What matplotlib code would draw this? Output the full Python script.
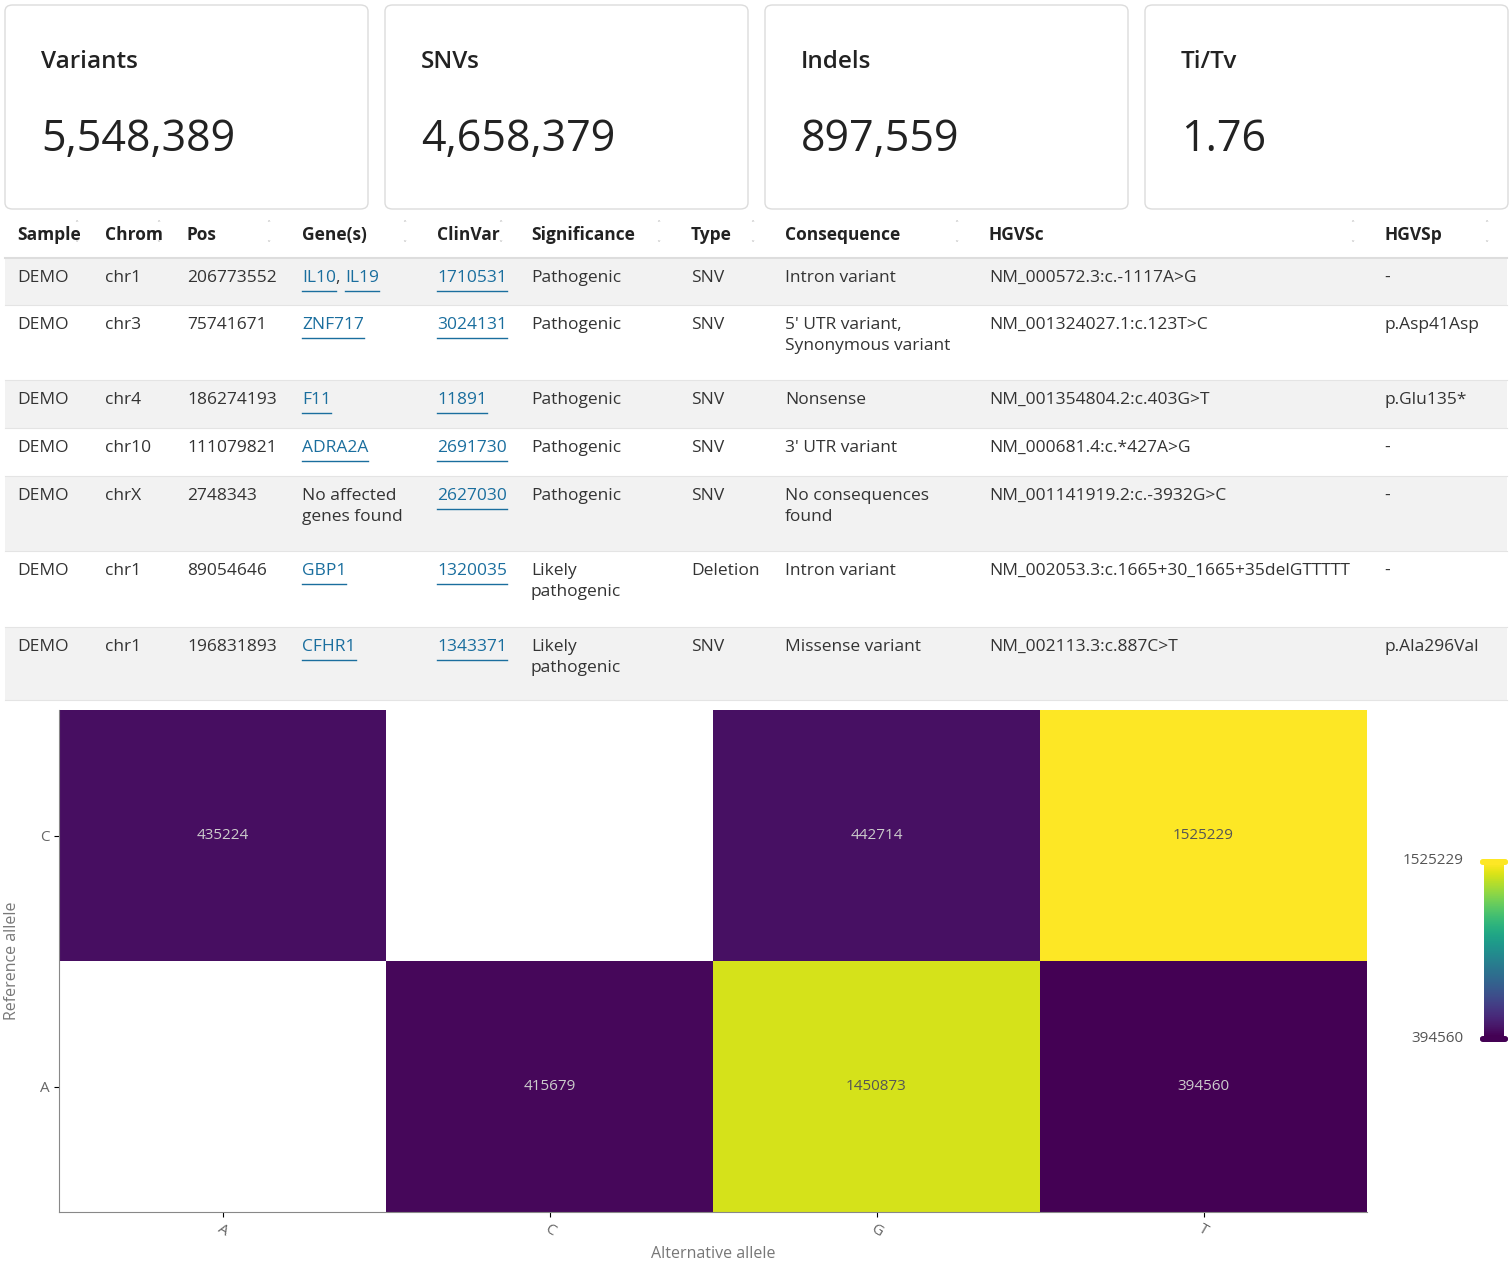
import numpy as np
import matplotlib.pyplot as plt
from matplotlib.patches import FancyBboxPatch, Rectangle

W, H = 1512, 1267
plt.rcParams['font.family'] = ['Open Sans', 'DejaVu Sans']

card_titles = ['Variants', 'SNVs', 'Indels', 'Ti/Tv']
card_values = ['5,548,389', '4,658,379', '897,559', '1.76']

columns = ['Sample', 'Chrom', 'Pos', 'Gene(s)', 'ClinVar', 'Significance', 'Type',
           'Consequence', 'HGVSc', 'HGVSp']
rows = [
    ['DEMO', 'chr1', '206773552', 'IL10, IL19', '1710531', 'Pathogenic', 'SNV', 'Intron variant', 'NM_000572.3:c.-1117A>G', '-'],
    ['DEMO', 'chr3', '75741671', 'ZNF717', '3024131', 'Pathogenic', 'SNV', "5' UTR variant,\nSynonymous variant", 'NM_001324027.1:c.123T>C', 'p.Asp41Asp'],
    ['DEMO', 'chr4', '186274193', 'F11', '11891', 'Pathogenic', 'SNV', 'Nonsense', 'NM_001354804.2:c.403G>T', 'p.Glu135*'],
    ['DEMO', 'chr10', '111079821', 'ADRA2A', '2691730', 'Pathogenic', 'SNV', "3' UTR variant", 'NM_000681.4:c.*427A>G', '-'],
    ['DEMO', 'chrX', '2748343', 'No affected\ngenes found', '2627030', 'Pathogenic', 'SNV', 'No consequences\nfound', 'NM_001141919.2:c.-3932G>C', '-'],
    ['DEMO', 'chr1', '89054646', 'GBP1', '1320035', 'Likely\npathogenic', 'Deletion', 'Intron variant', 'NM_002053.3:c.1665+30_1665+35delGTTTTT', '-'],
    ['DEMO', 'chr1', '196831893', 'CFHR1', '1343371', 'Likely\npathogenic', 'SNV', 'Missense variant', 'NM_002113.3:c.887C>T', 'p.Ala296Val'],
]
linked = [False, False, False, True, True, False, False, False, False, False]

ref_alleles = ['A', 'C']
alt_alleles = ['A', 'C', 'G', 'T']
counts = np.array([[np.nan, 415679, 1450873, 394560],
                   [435224, np.nan, 442714, 1525229]])

fig = plt.figure(figsize=(W / 100, H / 100), dpi=100)
renderer = fig.canvas.get_renderer()
LINK = '#1a6e9e'

def fx(x):
    return x / W

def fy(y):
    return 1 - y / H

def txt(x, y, s, **kw):
    return fig.text(fx(x), fy(y), s, va='center', **kw)

# stat cards
for i, (t, v) in enumerate(zip(card_titles, card_values)):
    x0 = 5 + i * 380
    fig.patches.append(FancyBboxPatch((fx(x0), fy(209)), fx(363), 204 / H,
                                      boxstyle='round,pad=0,rounding_size=0.005',
                                      transform=fig.transFigure, fc='white', ec='#dcdcdc', lw=1))
    txt(x0 + 36, 62, t, fontsize=17.5, color='#222222', weight='semibold')
    txt(x0 + 36, 140, v, fontsize=31, color='#222222')

# table
col_x = [17, 105, 187, 302, 437, 531, 691, 785, 989, 1384]
sort_x = [76, 158, 268, 404, 500, 658, 752, 956, 1352, 1486]
for c, x, sx in zip(columns, col_x, sort_x):
    txt(x, 235, c, fontsize=12.5, weight='bold', color='#222222')
    txt(sx, 226, '\u02c4', fontsize=6, color='#bbbbbb', ha='center')
    txt(sx, 245, '\u02c5', fontsize=6, color='#bbbbbb', ha='center')
fig.add_artist(plt.Line2D([fx(5), fx(1507)], [fy(258), fy(258)], color='#dddddd', lw=1.5))

bounds = [258, 305, 380, 428, 476, 551, 627, 700]
for r, row in enumerate(rows):
    top, bot = bounds[r], bounds[r + 1]
    if r % 2 == 0:
        fig.patches.append(Rectangle((fx(5), fy(bot)), fx(1502), (bot - top) / H,
                                     transform=fig.transFigure, fc='#f2f2f2', ec='none'))
    fig.add_artist(plt.Line2D([fx(5), fx(1507)], [fy(bot), fy(bot)], color='#e4e4e4', lw=0.8))
    for ci, (cell, x) in enumerate(zip(row, col_x)):
        is_link = linked[ci] and not cell.startswith('No ')
        if not is_link:
            fig.text(fx(x), fy(top + 12), cell, va='top', fontsize=12.5, linespacing=1.45,
                     color='#333333')
            continue
        cx = x
        parts = cell.split(', ')
        for k, part in enumerate(parts):
            t = fig.text(fx(cx), fy(top + 12), part, va='top', fontsize=12.5, color=LINK)
            w = t.get_window_extent(renderer).width
            fig.add_artist(plt.Line2D([fx(cx), fx(cx + w)], [fy(top + 33), fy(top + 33)],
                                      color=LINK, lw=1))
            cx += w
            if k < len(parts) - 1:
                t = fig.text(fx(cx), fy(top + 12), ', ', va='top', fontsize=12.5, color='#333333')
                cx += t.get_window_extent(renderer).width

# heatmap
ax = fig.add_axes([fx(59), fy(1212), fx(1367 - 59), (1212 - 710) / H])
mesh = ax.pcolormesh(np.ma.masked_invalid(counts), cmap='viridis',
                     vmin=np.nanmin(counts), vmax=np.nanmax(counts))
for i in range(counts.shape[0]):
    for j in range(counts.shape[1]):
        if not np.isnan(counts[i, j]):
            ax.text(j + 0.5, i + 0.5, f'{int(counts[i, j])}', ha='center', va='center',
                    fontsize=11, color='#cccccc' if counts[i, j] < 1e6 else '#555555')
ax.set_xticks(np.arange(4) + 0.5, alt_alleles, rotation=-30, color='#666666', fontsize=11)
ax.set_yticks(np.arange(2) + 0.5, ref_alleles, color='#666666', fontsize=11)
ax.set_xlabel('Alternative allele', color='#777777', fontsize=11.5)
ax.set_ylabel('Reference allele', color='#777777', fontsize=11.5, labelpad=14)
for s in ['top', 'right']:
    ax.spines[s].set_visible(False)
for s in ['left', 'bottom']:
    ax.spines[s].set_color('#888888')

cax = fig.add_axes([fx(1484), fy(1036), fx(20), 172 / H])
cb = fig.colorbar(mesh, cax=cax)
cb.outline.set_visible(False)
cb.set_ticks([])
cmap = plt.get_cmap('viridis')
for yy, col in [(862, cmap(1.0)), (1039, cmap(0.0))]:
    fig.patches.append(FancyBboxPatch((fx(1480), fy(yy + 3)), fx(28), 6 / H,
                                      boxstyle='round,pad=0,rounding_size=0.002',
                                      transform=fig.transFigure, fc=col, ec='none'))
txt(1464, 860, '1525229', fontsize=11, color='#555555', ha='right')
txt(1464, 1038, '394560', fontsize=11, color='#555555', ha='right')

fig.savefig('out.png', dpi=100)
